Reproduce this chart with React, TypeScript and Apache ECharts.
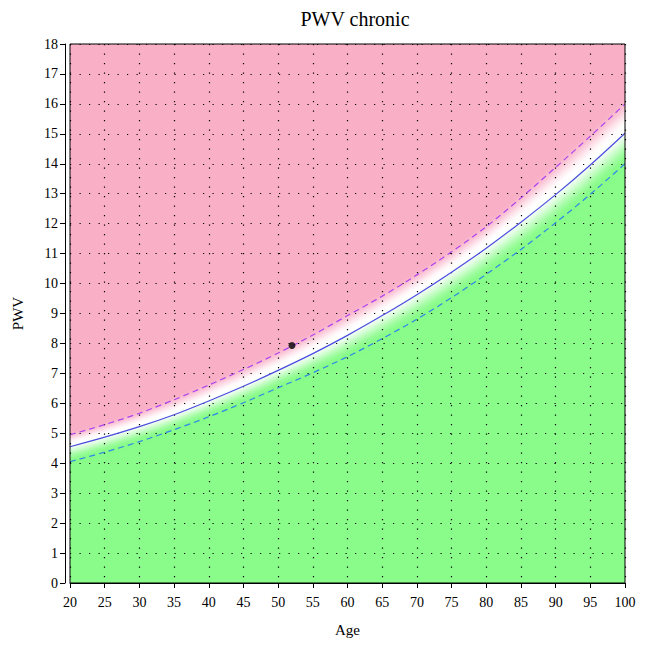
import React, { useEffect, useRef } from "react";
import * as echarts from "echarts";

const ages = [20, 25, 30, 35, 40, 45, 50, 55, 60, 65, 70, 75, 80, 85, 90, 95, 100];
const midPWV = [4.55, 4.87, 5.22, 5.62, 6.08, 6.57, 7.1, 7.66, 8.27, 8.93, 9.63, 10.38, 11.18, 12.05, 12.97, 13.96, 15.02];
const upperPWV = [4.95, 5.29, 5.67, 6.12, 6.61, 7.13, 7.68, 8.28, 8.93, 9.58, 10.29, 11.06, 11.9, 12.86, 13.88, 14.92, 16.0];
const lowerPWV = [4.05, 4.37, 4.72, 5.12, 5.55, 6.02, 6.52, 7.02, 7.56, 8.16, 8.81, 9.53, 10.31, 11.14, 12.03, 12.98, 14.0];
const patientPoint = [52, 7.93];
const xTicks = { min: 20, max: 100, interval: 5 };
const yTicks = { min: 0, max: 18, interval: 1 };

const PINK = [249, 176, 199];
const GREEN = [137, 252, 137];
const WHITE = [255, 255, 255];

function mix(a: number[], b: number[], t: number) {
  const c = a.map((v, i) => Math.round(v + (b[i] - v) * t));
  return `rgb(${c[0]},${c[1]},${c[2]})`;
}
function smoothstep(t: number) {
  const x = Math.max(0, Math.min(1, t));
  return x * x * (3 - 2 * x);
}
function colorAt(s: number) {
  const c = 0.2;
  if (s >= c) return mix(WHITE, PINK, smoothstep((s - c) / (1.25 - c)));
  return mix(WHITE, GREEN, smoothstep((c - s) / (c + 0.95)));
}
function boundary(s: number) {
  return ages.map((a, i) => {
    const m = midPWV[i];
    const v = s < 0 ? m + s * (m - lowerPWV[i]) : m + s * (upperPWV[i] - m);
    return [a, v];
  });
}

const SMOOTH = 0.3;

export default function App() {
  const ref = useRef<HTMLDivElement>(null);
  useEffect(() => {
    if (!ref.current) return;
    const chart = echarts.init(ref.current, null, { renderer: "svg" });
    const font = "'Liberation Serif', 'DejaVu Serif', serif";
    const K = 56;
    const S0 = -1.3;
    const S1 = 1.4;
    const fill = (data: number[][], color: string) => ({
      type: "line",
      data,
      smooth: SMOOTH,
      showSymbol: false,
      silent: true,
      z: -2,
      lineStyle: { width: 0 },
      areaStyle: { color, opacity: 1 },
    });
    const areaSeries: any[] = [];
    areaSeries.push(fill(ages.map((a) => [a, yTicks.max]), mix(PINK, PINK, 0)));
    for (let i = K; i >= 1; i--) {
      const sTop = S0 + ((S1 - S0) * i) / K;
      const sBot = S0 + ((S1 - S0) * (i - 1)) / K;
      areaSeries.push(fill(boundary(sTop), colorAt((sTop + sBot) / 2)));
    }
    areaSeries.push(fill(boundary(S0), mix(GREEN, GREEN, 0)));

    const lineSeries = [
      {
        type: "line",
        data: ages.map((a, i) => [a, upperPWV[i]]),
        smooth: SMOOTH,
        showSymbol: false,
        lineStyle: { color: "#b044ee", width: 1.2, type: [6, 4] },
        z: 4,
      },
      {
        type: "line",
        data: ages.map((a, i) => [a, midPWV[i]]),
        smooth: SMOOTH,
        showSymbol: false,
        lineStyle: { color: "#4c4ce0", width: 1.2, type: "solid" },
        z: 4,
      },
      {
        type: "line",
        data: ages.map((a, i) => [a, lowerPWV[i]]),
        smooth: SMOOTH,
        showSymbol: false,
        lineStyle: { color: "#2f86e8", width: 1.2, type: [6, 4] },
        z: 4,
      },
      {
        type: "scatter",
        data: [patientPoint],
        symbolSize: 7,
        itemStyle: { color: "#000" },
        z: 6,
      },
    ];

    chart.setOption({
      animation: false,
      title: {
        text: "PWV chronic",
        left: 350,
        textAlign: "center",
        top: 4,
        textStyle: { fontFamily: font, fontSize: 20, fontWeight: "normal", color: "#000" },
      },
      grid: {
        left: 70,
        top: 44,
        width: 555,
        height: 539,
        show: true,
        z: 5,
        borderColor: "#000",
        borderWidth: 1,
        backgroundColor: "transparent",
      },
      xAxis: {
        type: "value",
        min: xTicks.min,
        max: xTicks.max,
        interval: xTicks.interval,
        offset: 5,
        z: 3,
        name: "Age",
        nameLocation: "middle",
        nameGap: 34,
        nameTextStyle: { fontFamily: font, fontSize: 15, color: "#000" },
        axisLine: { show: true, lineStyle: { color: "#000", width: 1 } },
        axisTick: { show: true, length: 5, lineStyle: { color: "#000" } },
        axisLabel: { fontFamily: font, fontSize: 14, color: "#000", margin: 7 },
        splitLine: { show: true, lineStyle: { color: "#000", width: 1.2, type: [1.2, 8.3] } },
      },
      yAxis: {
        type: "value",
        min: yTicks.min,
        max: yTicks.max,
        interval: yTicks.interval,
        offset: 5,
        z: 3,
        name: "PWV",
        nameLocation: "middle",
        nameGap: 40,
        nameTextStyle: { fontFamily: font, fontSize: 15, color: "#000" },
        axisLine: { show: true, lineStyle: { color: "#000", width: 1 } },
        axisTick: { show: true, length: 5, lineStyle: { color: "#000" } },
        axisLabel: { fontFamily: font, fontSize: 14, color: "#000", margin: 7 },
        splitLine: { show: true, lineStyle: { color: "#000", width: 1.2, type: [1.2, 8.3] } },
      },
      series: [...areaSeries, ...lineSeries],
    });
    return () => chart.dispose();
  }, []);
  return (
    <div
      ref={ref}
      style={{ position: "fixed", left: 0, top: 0, width: 646, height: 648, background: "#fff" }}
    />
  );
}
